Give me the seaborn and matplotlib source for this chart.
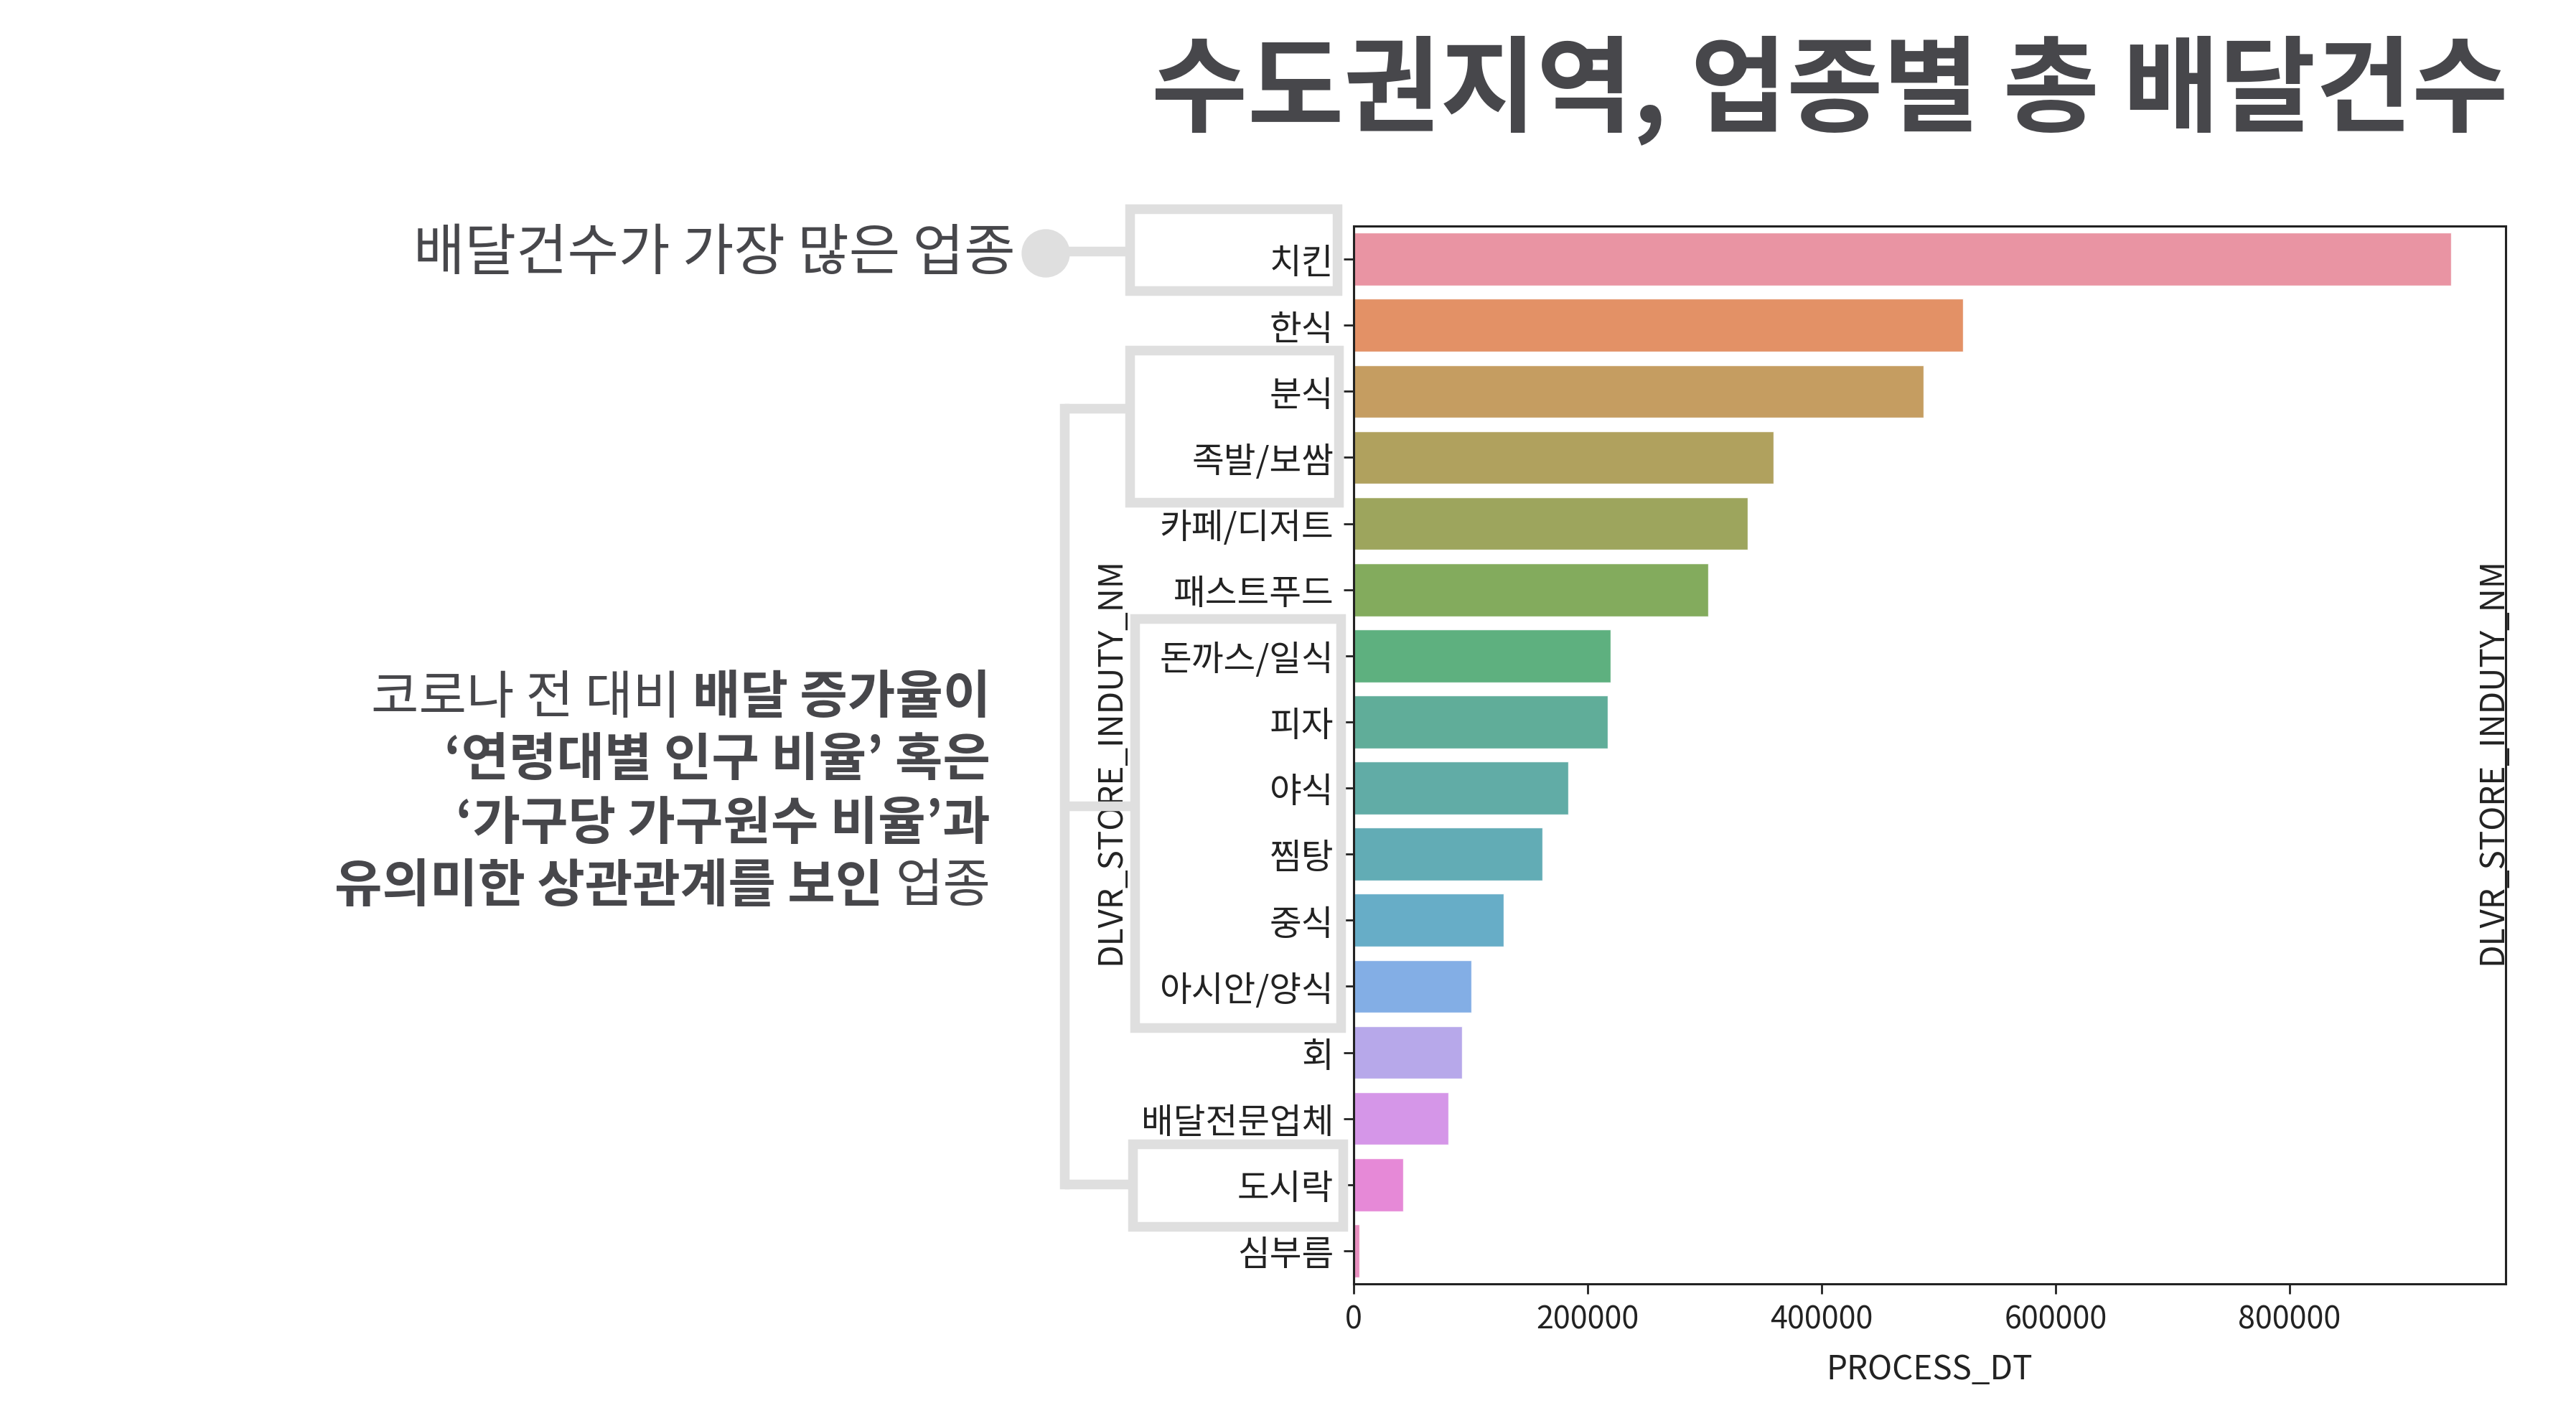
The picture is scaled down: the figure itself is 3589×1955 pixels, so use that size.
import matplotlib
matplotlib.use("Agg")
import matplotlib.pyplot as plt
from matplotlib.patches import Rectangle, Circle
import pandas as pd
import seaborn as sns

# 업종별 총 배달건수
industries = ['치킨', '한식', '분식', '족발/보쌈', '카페/디저트', '패스트푸드', '돈까스/일식', '피자',
              '야식', '찜탕', '중식', '아시안/양식', '회', '배달전문업체', '도시락', '심부름']
delivery_counts = [937700, 520500, 486900, 359000, 336900, 303300, 219700, 217200,
                   183600, 161500, 128300, 100800, 92600, 81100, 42600, 4900]
x_ticks = [0, 200000, 400000, 600000, 800000]

title = '수도권지역, 업종별 총 배달건수'
note_top = '배달건수가 가장 많은 업종'

df = pd.DataFrame({'DLVR_STORE_INDUTY_NM': industries, 'PROCESS_DT': delivery_counts})

sns.set_style('ticks')
plt.rcParams['font.family'] = ['Noto Sans CJK KR', 'DejaVu Sans']

W, H = 3589, 1956
fig = plt.figure(figsize=(W / 100, H / 100), dpi=100)
fig.patch.set_facecolor('white')

ax = fig.add_axes([0.5255, 0.0849, 0.4472, 0.7535])
sns.barplot(data=df, x='PROCESS_DT', y='DLVR_STORE_INDUTY_NM', hue='DLVR_STORE_INDUTY_NM',
            palette='husl', legend=False, alpha=0.85, ax=ax)
ax.set_xticks(x_ticks)
ax.set_xticklabels([str(t) for t in x_ticks])
for s in ax.spines.values():
    s.set_linewidth(2.2)
    s.set_color('#222222')
ax.tick_params(axis='y', labelsize=35, length=10, width=2, pad=10, colors='#222222')
ax.tick_params(axis='x', labelsize=31, length=10, width=2, pad=10, colors='#222222')
ax.set_ylabel('')
ax.set_xlabel('PROCESS_DT', fontsize=33, color='#222222')
ax.xaxis.set_label_coords(0.5, -0.064)
# 왼쪽/오른쪽 세로 라벨
ax.text(-0.211, 0.495, 'DLVR_STORE_INDUTY_NM', transform=ax.transAxes, rotation=90,
        ha='center', va='center', fontsize=33, color='#222222')
ax.text(0.988, 0.495, 'DLVR_STORE_INDUTY_NM', transform=ax.transAxes, rotation=90,
        ha='center', va='center', fontsize=33, color='#222222')

# 주석용 오버레이 (픽셀 좌표)
ov = fig.add_axes([0, 0, 1, 1])
ov.set_xlim(0, W)
ov.set_ylim(H, 0)
ov.axis('off')
ov.set_facecolor('none')

txt_c = '#47474b'
gray = '#dfdfdf'
lw = 9.7

ov.text(3494, 126, title, ha='right', va='center', fontsize=105, fontweight='bold', color=txt_c)

# 박스
for x0, y0, x1, y1 in [(1574, 292, 1863, 406), (1574, 489, 1865, 701),
                       (1581, 863, 1868, 1433), (1578, 1595, 1871, 1710)]:
    ov.add_patch(Rectangle((x0, y0), x1 - x0, y1 - y0, fill=False, edgecolor=gray, linewidth=lw,
                           joinstyle='miter'))

# 최다 업종 표시
ov.plot([1457, 1568], [351, 351], color=gray, lw=lw, solid_capstyle='butt')
ov.add_patch(Circle((1457, 354), 33, color=gray))
ov.text(1415, 354, note_top, ha='right', va='center', fontsize=56, color=txt_c)

# 괄호 연결선
ov.plot([1483, 1483], [570, 1651], color=gray, lw=lw, solid_capstyle='projecting')
ov.plot([1483, 1568], [570, 570], color=gray, lw=lw, solid_capstyle='butt')
ov.plot([1483, 1575], [1124, 1124], color=gray, lw=lw, solid_capstyle='butt')
ov.plot([1483, 1572], [1651, 1651], color=gray, lw=lw, solid_capstyle='butt')

# 설명 문구 (굵기 혼합)
rx = 1380
fs = 52
sp = -12
t1 = ov.text(rx, 973, '배달 증가율이', ha='right', va='center', fontsize=fs, fontweight='bold', color=txt_c)
ov.annotate('코로나 전 대비', xy=(0, 0.5), xycoords=t1, xytext=(sp, 0), textcoords='offset points',
            ha='right', va='center', fontsize=fs, color=txt_c)
ov.text(rx, 1060, '‘연령대별 인구 비율’ 혹은', ha='right', va='center', fontsize=fs, fontweight='bold', color=txt_c)
ov.text(rx, 1149, '‘가구당 가구원수 비율’과', ha='right', va='center', fontsize=fs, fontweight='bold', color=txt_c)
t4 = ov.text(rx, 1236, '업종', ha='right', va='center', fontsize=fs, color=txt_c)
ov.annotate('유의미한 상관관계를 보인', xy=(0, 0.5), xycoords=t4, xytext=(sp, 0), textcoords='offset points',
            ha='right', va='center', fontsize=fs, fontweight='bold', color=txt_c)

fig.savefig('out.png', dpi=100, facecolor='white')
